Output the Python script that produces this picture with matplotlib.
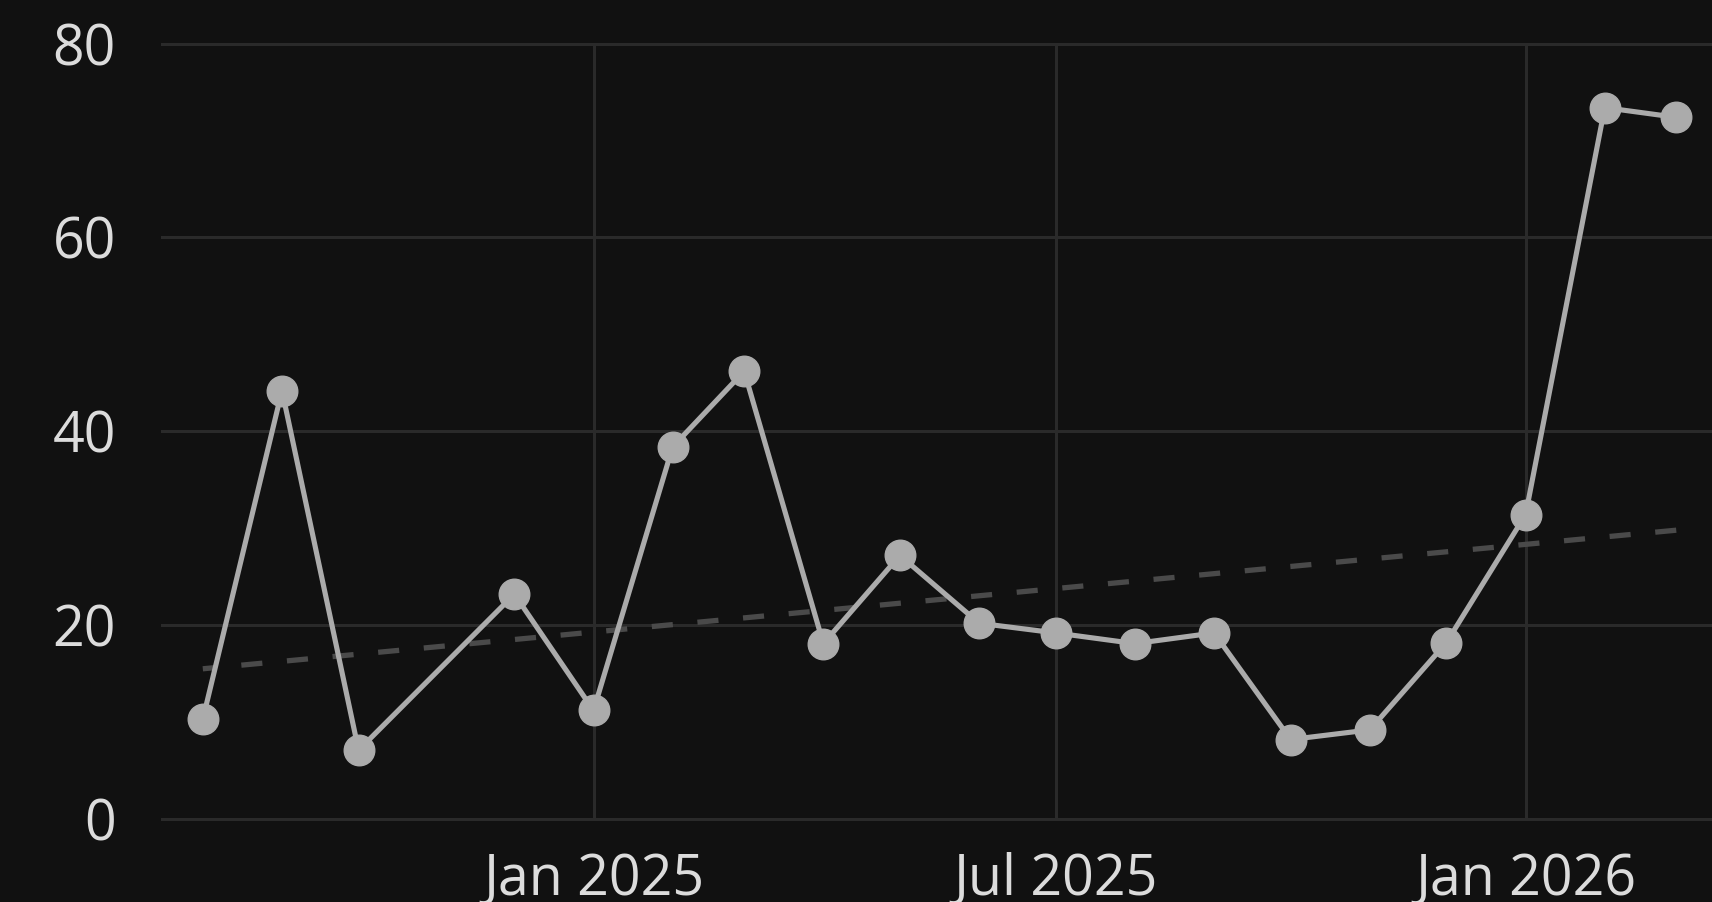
import numpy as np
import pandas as pd
import matplotlib
matplotlib.use("Agg")
import matplotlib.pyplot as plt
import matplotlib.dates as mdates

# monthly values (Nov 2024 has no point)
months = ["2024-08", "2024-09", "2024-10", "2024-12",
          "2025-01", "2025-02", "2025-03", "2025-04", "2025-05", "2025-06",
          "2025-07", "2025-08", "2025-09", "2025-10", "2025-11", "2025-12",
          "2026-01", "2026-02", "2026-03"]
values = [10.3, 44.2, 7.1, 23.2,
          11.2, 38.4, 46.2, 18.1, 27.2, 20.2,
          19.2, 18.1, 19.2, 8.2, 9.2, 18.2,
          31.4, 73.4, 72.4]

# dashed trend line, end and start (drawn from the right so it ends on a dash)
trend_dates = ["2026-03", "2024-08"]
trend_values = [29.8, 15.5]

y_ticks = [0, 20, 40, 60, 80]
x_ticks = ["2025-01", "2025-07", "2026-01"]
x_labels = ["Jan 2025", "Jul 2025", "Jan 2026"]

bg = "#111111"
grid_col = "#2a2a2a"
line_col = "#ababab"
trend_col = "#4a4a4a"
text_col = "#dcdcdc"

plt.rcParams["font.family"] = ["Open Sans", "DejaVu Sans"]

fig = plt.figure(figsize=(17.12, 9.02), dpi=100, facecolor=bg)
ax = fig.add_axes([0.0946, 0.092, 0.9054, 0.8596])
ax.set_facecolor(bg)

dates = pd.to_datetime(months)
tdates = pd.to_datetime(trend_dates)

ax.plot(tdates, trend_values, color=trend_col, lw=3.8, dashes=(4.0, 4.68), zorder=2)
ax.plot(dates, values, color=line_col, lw=3.7, marker="o", markersize=22,
        markerfacecolor=line_col, markeredgecolor=line_col, zorder=3)

ax.set_ylim(0, 80)
ax.set_xlim(pd.Timestamp("2024-07-16"), pd.Timestamp("2026-03-15"))
ax.set_yticks(y_ticks)
ax.set_xticks(pd.to_datetime(x_ticks))
ax.set_xticklabels(x_labels)

for y in y_ticks:
    ax.axhline(y, color=grid_col, lw=2.2, zorder=1, clip_on=False)
for x in pd.to_datetime(x_ticks):
    ax.axvline(x, color=grid_col, lw=2.2, zorder=1)

for s in ax.spines.values():
    s.set_visible(False)
ax.tick_params(axis="both", length=0, colors=text_col, labelsize=40)
ax.tick_params(axis="y", pad=33)
ax.tick_params(axis="x", pad=24)

fig.savefig("out.png", dpi=100, facecolor=bg)
